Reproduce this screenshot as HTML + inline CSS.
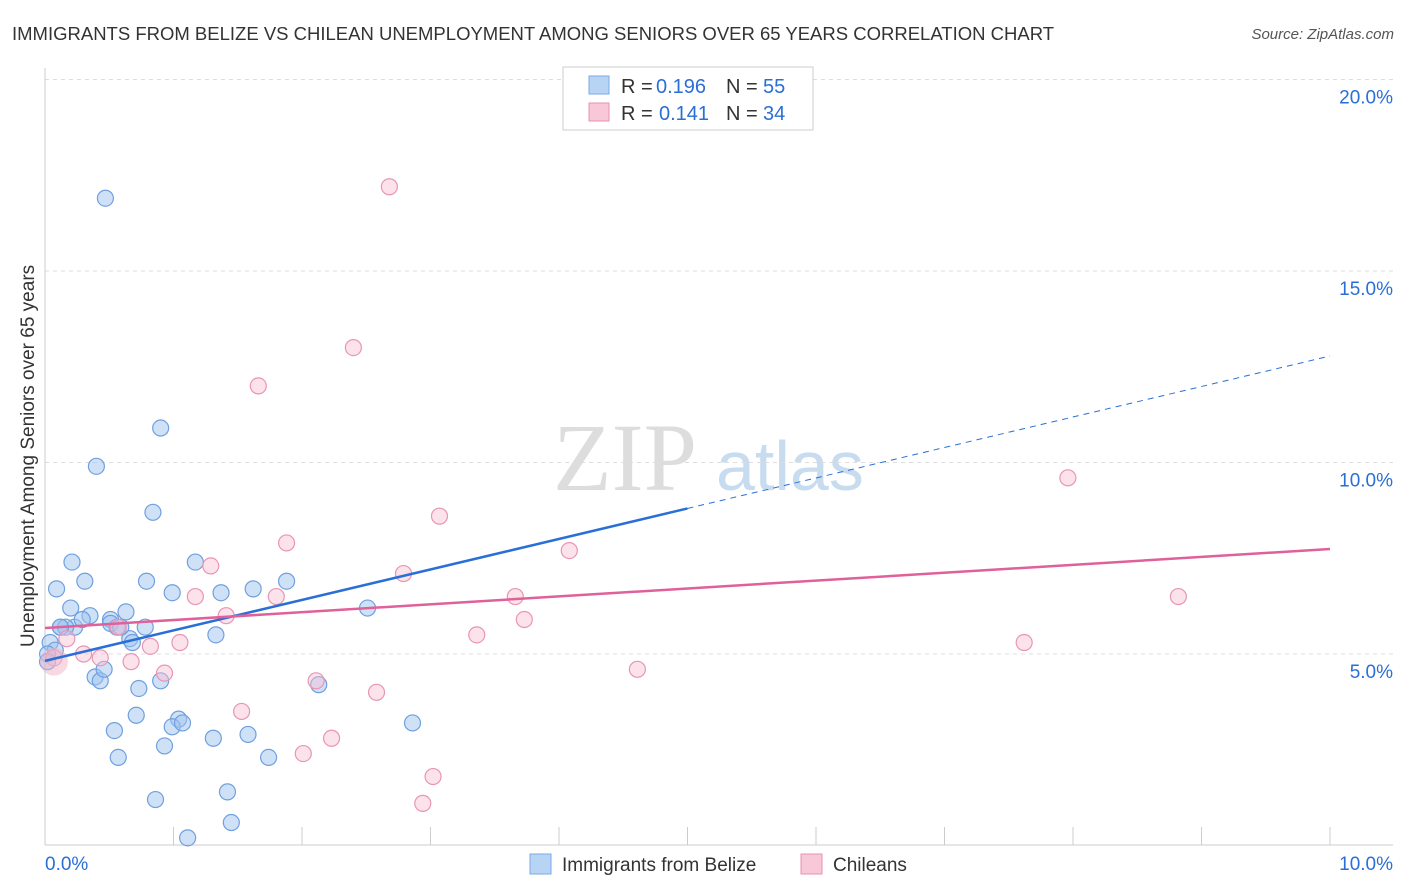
<!DOCTYPE html>
<html><head><meta charset="utf-8">
<style>
body{margin:0;background:#fff;font-family:"Liberation Sans",sans-serif;}
svg{display:block}
</style></head>
<body>
<svg id="chart" width="1406" height="892">
<text x="12" y="40" font-size="18.5" fill="#333">IMMIGRANTS FROM BELIZE VS CHILEAN UNEMPLOYMENT AMONG SENIORS OVER 65 YEARS CORRELATION CHART</text>
<text x="1394" y="39" font-size="15" fill="#555" font-style="italic" text-anchor="end">Source: ZipAtlas.com</text>
<text x="0" y="0" transform="translate(34,456) rotate(-90)" font-size="19" fill="#333" text-anchor="middle">Unemployment Among Seniors over 65 years</text>
<g><text x="553" y="490" font-size="96" font-family="Liberation Serif,serif" fill="#ddd">ZIP</text><text x="716" y="490" font-size="70" fill="#c8dcf0">atlas</text></g>
<g id="grid"></g><g id="marks"></g>
<g>
<rect x="563" y="67" width="250" height="63" fill="#fff" stroke="#ccc"/>
<rect x="589" y="76" width="20" height="18" fill="#b8d4f5" stroke="#7aaae6"/>
<text x="621" y="93" font-size="20" fill="#333">R = </text><text x="656" y="93" font-size="20" fill="#2a6fd6">0.196</text>
<text x="726" y="93" font-size="20" fill="#333">N = </text><text x="763" y="93" font-size="20" fill="#2a6fd6">55</text>
<rect x="589" y="103" width="20" height="18" fill="#f8c8d8" stroke="#ea90b0"/>
<text x="621" y="120" font-size="20" fill="#333">R = </text><text x="659" y="120" font-size="20" fill="#2a6fd6">0.141</text>
<text x="726" y="120" font-size="20" fill="#333">N = </text><text x="763" y="120" font-size="20" fill="#2a6fd6">34</text>
</g>
<g>
<rect x="530" y="854" width="21" height="20" fill="#b8d4f5" stroke="#7aaae6"/>
<text x="562" y="871" font-size="19" fill="#333">Immigrants from Belize</text>
<rect x="801" y="854" width="21" height="20" fill="#f8c8d8" stroke="#ea90b0"/>
<text x="833" y="871" font-size="19" fill="#333">Chileans</text>
</g>
</svg>
<script>
const blueX=[0.47,0.9,0.4,0.84,1.17,0.21,0.09,0.31,0.79,0.99,1.37,1.62,1.88,0.2,0.35,0.63,0.12,0.23,0.29,0.51,0.78,0.56,0.66,0.68,1.33,0.04,0.08,0.02,0.02,2.51,0.39,0.43,0.46,0.73,0.9,2.13,0.71,1.04,0.99,1.07,0.54,1.31,1.58,2.86,0.93,0.57,1.74,0.86,1.42,1.45,1.11,0.16,0.12,0.51,0.59];
const blueY=[16.9,10.9,9.9,8.7,7.4,7.4,6.7,6.9,6.9,6.6,6.6,6.7,6.9,6.2,6.0,6.1,5.7,5.7,5.9,5.9,5.7,5.7,5.4,5.3,5.5,5.3,5.1,5.0,4.8,6.2,4.4,4.3,4.6,4.1,4.3,4.2,3.4,3.3,3.1,3.2,3.0,2.8,2.9,3.2,2.6,2.3,2.3,1.2,1.4,0.6,0.2,5.7,5.7,5.8,5.7];
const pinkX=[2.68,2.4,1.66,3.07,1.88,4.08,1.29,2.79,3.66,7.96,8.82,1.17,1.8,1.41,3.73,0.57,3.36,1.05,0.82,0.17,0.43,0.3,0.07,0.67,4.61,0.93,2.11,2.58,7.62,1.53,2.23,2.01,3.02,2.94];
const pinkY=[17.2,13.0,12.0,8.6,7.9,7.7,7.3,7.1,6.5,9.6,6.5,6.5,6.5,6.0,5.9,5.7,5.5,5.3,5.2,5.4,4.9,5.0,4.9,4.8,4.6,4.5,4.3,4.0,5.3,3.5,2.8,2.4,1.8,1.1];
const blueFit=[4.82,0.796];const pinkFit=[5.68,0.206];
const xTicks=[0,1,2,3,4,5,6,7,8,9,10];const yTicks=[5,10,15,20];
const sx=v=>45+v*128.5, sy=v=>845.5-v*38.3;
const NS="http://www.w3.org/2000/svg";
const grid=document.getElementById('grid'),marks=document.getElementById('marks');
function mk(p,tag,a){const e=document.createElementNS(NS,tag);for(const k in a)e.setAttribute(k,a[k]);p.appendChild(e);return e;}
yTicks.forEach(v=>{
 const l=mk(grid,'line',{x1:45,x2:1393,y1:sy(v),y2:sy(v),stroke:'#ddd','stroke-dasharray':'4,4'});
 
 
 const t=mk(grid,'text',{x:1393,y:sy(v)+24,'font-size':19,fill:'#2a6fd6','text-anchor':'end'});t.textContent=v.toFixed(1)+'%';
 
 
});
mk(grid,'line',{x1:45,x2:45,y1:68,y2:845,stroke:'#ccc'});
mk(grid,'line',{x1:45,x2:1393,y1:845,y2:845,stroke:'#ccc'});
xTicks.forEach(v=>{
 const l=mk(grid,'line',{x1:sx(v),x2:sx(v),y1:827,y2:845,stroke:'#ccc'});
 
 
});
[[0,'start',45],[10,'end',1393]].forEach(([v,a,x])=>{
 const t=mk(grid,'text',{x:x,y:870,'font-size':19,fill:'#2a6fd6','text-anchor':a});t.textContent=v.toFixed(1)+'%';
 
 
});
blueX.forEach((x,i)=>{
 const c=mk(marks,'circle',{cx:sx(x),cy:sy(blueY[i]),r:8,fill:'rgba(160,196,240,0.5)',stroke:'#6fa0de','stroke-width':1.2});
 
 
});
pinkX.forEach((x,i)=>{
 const c=mk(marks,'circle',{cx:sx(x),cy:sy(pinkY[i]),r:8,fill:'rgba(248,190,210,0.45)',stroke:'#e995b3','stroke-width':1.2});
 
 
});
const big=mk(marks,'circle',{cx:sx(0.07),cy:sy(4.8),r:14,fill:'rgba(240,180,200,0.5)',stroke:'none'});


const f=(fit,x)=>fit[0]+fit[1]*x;
const b1=mk(marks,'line',{x1:sx(0),y1:sy(f(blueFit,0)),x2:sx(5),y2:sy(f(blueFit,5)),stroke:'#2a6fd6','stroke-width':2.5});


const b2=mk(marks,'line',{x1:sx(5),y1:sy(f(blueFit,5)),x2:sx(10),y2:sy(f(blueFit,10)),stroke:'#2a6fd6','stroke-width':1,'stroke-dasharray':'6,5'});


const p1=mk(marks,'line',{x1:sx(0),y1:sy(f(pinkFit,0)),x2:sx(10),y2:sy(f(pinkFit,10)),stroke:'#e0609a','stroke-width':2.5});


</script>
</body></html>
